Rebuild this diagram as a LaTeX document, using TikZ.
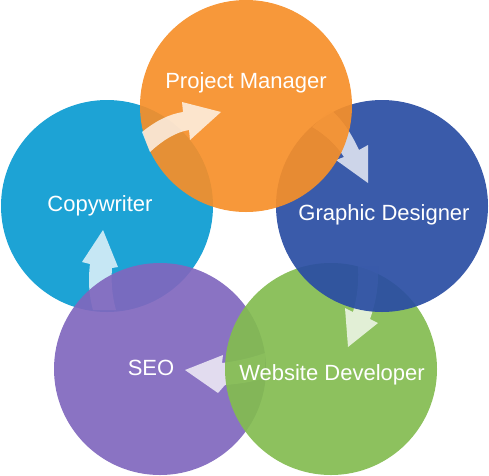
\documentclass[tikz,border=0pt]{standalone}
\usepackage{fontspec}
\setmainfont{Liberation Sans}
\definecolor{cOrange}{RGB}{246,143,41}
\definecolor{cCyan}{RGB}{10,155,209}
\definecolor{cNavy}{RGB}{41,77,163}
\definecolor{cGreen}{RGB}{131,188,80}
\definecolor{cPurple}{RGB}{128,103,190}
\tikzset{
  bubble/.style={circle, minimum size=212pt, inner sep=0pt, fill opacity=0.92, draw=none},
  flow/.style={fill=white, fill opacity=0.75, draw=none},
  lbl/.style={text=white, font=\fontsize{22}{26}\selectfont, anchor=base, inner sep=0pt}
}
\begin{document}
\begin{tikzpicture}[x=1pt, y=-1pt]
\useasboundingbox (0,0) rectangle (489,475);
% copywriter (bottom)
\node[bubble, fill=cCyan] (cw) at (107,206) {};
% arrow SEO -> copywriter
\fill[flow] (90,264) .. controls (88,280) and (89,296) .. (93,310) -- (116,310) .. controls (112,296) and (111,282) .. (112,268) -- (118,267) -- (103,230) -- (82,262) -- cycle;
\node[bubble, fill=cPurple] (seo) at (160,369) {};
% arrow website -> SEO
\fill[flow] (222,363) .. controls (237,361) and (251,358) .. (265,353) -- (265,378) .. controls (252,382) and (239,384) .. (225,385) -- (218,393) -- (185,370) -- (223,355) -- cycle;
\node[bubble, fill=cGreen] (web) at (331,369) {};
% arrow graphic -> website
\fill[flow] (353,312) .. controls (357,298) and (359,283) .. (358,266) -- (378,266) .. controls (379,285) and (376,302) .. (370,319) -- (378,323) -- (348,347) -- (345,308) -- cycle;
\node[bubble, fill=cNavy] (gd) at (382,206) {};
% arrow project -> graphic
\fill[flow] (331,110) .. controls (343,120) and (352,135) .. (359,150) -- (368,145) -- (368,183) -- (336,160) -- (344,157) .. controls (337,146) and (326,135) .. (312,127) -- cycle;
\node[bubble, fill=cOrange] (pm) at (246,106) {};
% arrow copywriter -> project
\fill[flow] (142,132) .. controls (157,120) and (170,114) .. (183,112) -- (182,102) -- (221,112) -- (190,140) -- (189,130) .. controls (176,132) and (163,140) .. (150,152) -- cycle;
% labels
\node[lbl] (tpm) at (246,88) {Project Manager};
\node[lbl] (tcw) at (100,211) {Copywriter};
\node[lbl] (tgd) at (384,220) {Graphic Designer};
\node[lbl] (tweb) at (332,380) {Website Developer};
\node[lbl] (tseo) at (151,375) {SEO};
\end{tikzpicture}
\end{document}
